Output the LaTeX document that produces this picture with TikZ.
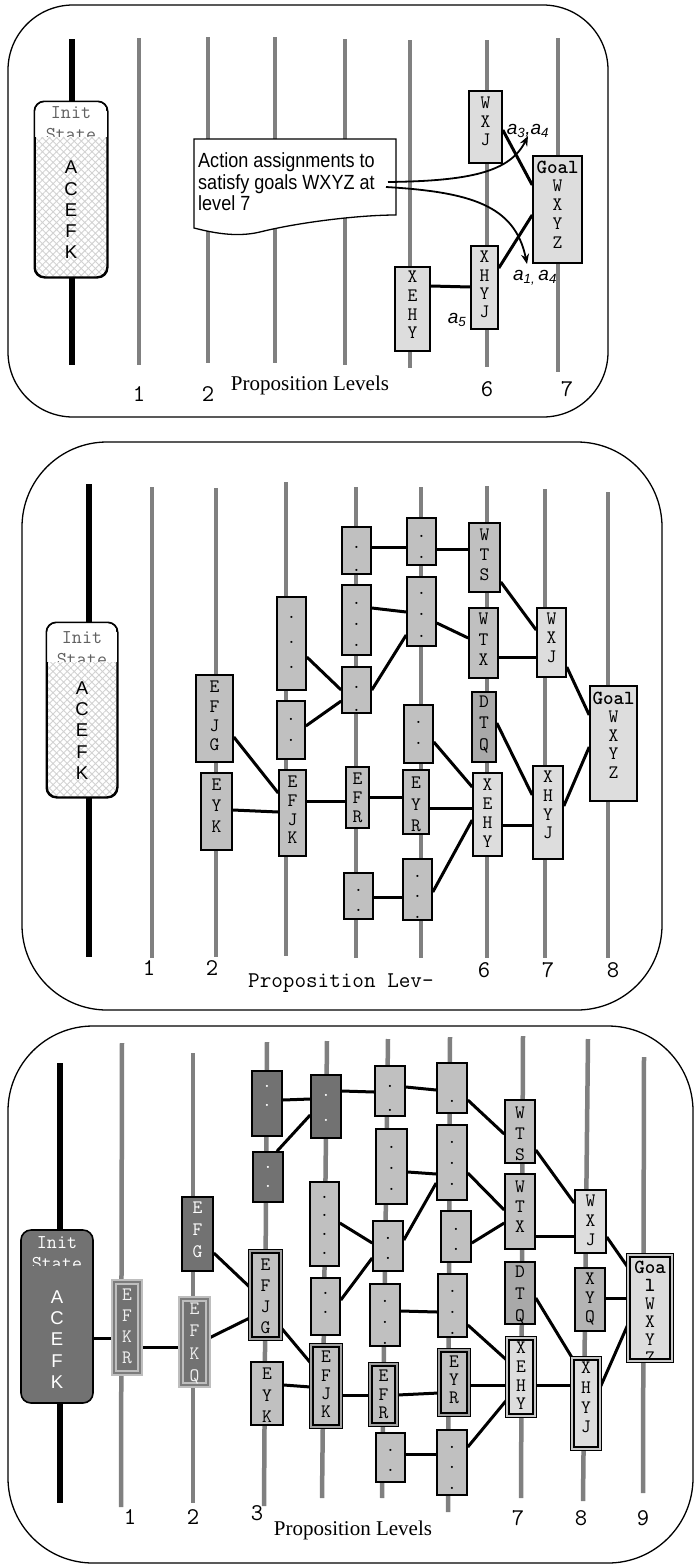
\documentclass[tikz,border=0pt]{standalone}
\usepackage{fontspec}
\usetikzlibrary{fit,arrows.meta,patterns.meta}
\newfontfamily\arialf{Liberation Sans}
\newfontfamily\callf[FakeStretch=0.88]{Liberation Sans}
\newfontfamily\timesf{Liberation Serif}
\definecolor{lvlgray}{HTML}{808080}
\definecolor{bxmed}{HTML}{C0C0C0}
\definecolor{bxlight}{HTML}{DDDDDD}
\definecolor{bxdark}{HTML}{727272}
\definecolor{bxdtq}{HTML}{A9A9A9}
\definecolor{bxxyq}{HTML}{B4B4B4}
\definecolor{efkrline}{HTML}{BEBEBE}
\definecolor{bandm}{HTML}{A0A0A0}
\definecolor{bandl}{HTML}{C8C8C8}
\definecolor{bandd}{HTML}{7C7C7C}
\pgfdeclarelayer{bg}
\pgfdeclarelayer{edges}
\pgfsetlayers{bg,edges,main}
\tikzset{
  lvl/.style={draw=lvlgray, line width=4.5pt},
  lvlblk/.style={draw=black, line width=6.5pt},
  panel/.style={draw=black, line width=1.3pt, rounded corners=#1},
  bxbase/.style={draw=black, line width=1.6pt, inner sep=0pt},
  bxm/.style={bxbase, fill=bxmed}, bxmt/.style={},
  bxl/.style={bxbase, fill=bxlight}, bxlt/.style={},
  bxd/.style={bxbase, fill=bxdark}, bxdt/.style={text=white},
  bxq/.style={bxbase, fill=bxdtq}, bxqt/.style={},
  bxy/.style={bxbase, fill=bxxyq}, bxyt/.style={},
  dblm/.style={draw=black, line width=1.3pt, double=bandm, double distance=2pt, fill=bxmed, inner sep=-2.3pt}, dblmt/.style={},
  dbll/.style={draw=black, line width=1.3pt, double=bandl, double distance=2pt, fill=bxlight, inner sep=-2.3pt}, dbllt/.style={},
  dbld/.style={draw=efkrline, line width=1.8pt, double=bandd, double distance=2pt, fill=bxdark, inner sep=-2.8pt}, dbldt/.style={text=gray!12},
  btx/.style={inner sep=0pt, align=center},
  edge/.style={draw=black, line width=3pt},
  initpat/.style={inner sep=0pt, rounded corners=10pt, preaction={fill=white},
    pattern={Hatch[angle=45,distance=5pt,line width=0.9pt]}, pattern color=gray!35,
    draw=black, line width=1.5pt},
  initbd/.style={draw=black, line width=1.5pt, rounded corners=10pt},
  inittx/.style={inner sep=0pt, font=\ttfamily\fontsize{19.5}{19.5}\selectfont, text=gray!75!black},
  acefk/.style={inner sep=0pt, align=center, font=\arialf\fontsize{18.5}{21.2}\selectfont},
  lvnum/.style={inner sep=0pt, font=\ttfamily\fontsize{24}{24}\selectfont},
  plv/.style={inner sep=0pt, font=\timesf\fontsize{21}{21}\selectfont},
  albl/.style={inner sep=0pt, font=\arialf\itshape\fontsize{19}{19}\selectfont},
  callout/.style={draw=black, line width=1.3pt, fill=white},
  calltx/.style={inner sep=0pt, align=left, font=\callf\fontsize{20.5}{21.5}\selectfont},
  arr/.style={draw=black, line width=1.8pt, -{Stealth[length=10pt,width=8pt]}}
}
\newcommand\pbx[9]{%
  \node[#6, fit={(#2,#3) (#4,#5)}] (#1) {};
  \node[btx, #6t, font=\ttfamily\fontsize{19}{#9}\selectfont] (#1t) at ({(#2+#4)/2},#8) {#7};%
}
\newcommand\edg[4]{\draw[edge] (#1.east |- 0,#2) -- (#3.west |- 0,#4);}
\begin{document}
\begin{tikzpicture}[x=1pt,y=-1pt]
\useasboundingbox (0,0) rectangle (695,1566);
\begin{pgfonlayer}{bg}
  \draw[panel=65pt] (8,5) rectangle (608,417);
  \draw[panel=85pt] (22,442) rectangle (662,1010);
  \draw[panel=85pt] (8,1026) rectangle (693,1563);
  \foreach \x/\a/\b in {139/38/365, 208/37/363, 275/37/363, 345/39/365, 410/40/368, 487/40/367, 558/38/372}
    \draw[lvl] (\x,\a) -- (\x,\b);
  \draw[lvlblk] (72,39) -- (72,365);
  \foreach \x/\a/\b in {152/487/958, 216/488/957, 286/482/956, 356/487/958, 421/487/958, 487/486/958, 545/489/958, 608/492/958}
    \draw[lvl] (\x,\a) -- (\x,\b);
  \draw[lvlblk] (89,484) -- (89,957);
  \foreach \xa/\a/\xb/\b in {122/1043/121/1507, 193/1053/193/1503, 267/1042/264/1506, 327/1041/322/1498, 388/1039/382/1498, 450/1037/448/1512, 523/1036/521/1498, 588/1039/583/1501, 644/1057/643/1493}
    \draw[lvl] (\xa,\a) -- (\xb,\b);
  \draw[lvlblk] (60,1063) -- (60,1503);
\end{pgfonlayer}

% ---------------- Panel 1 ----------------
\node[initpat, fit={(35,102) (107,277)}] (init1) {};
\begin{scope}
  \clip[rounded corners=10pt] (35,102) rectangle (107,277);
  \fill[white] (35,100) rectangle (107,136.5);
\end{scope}
\draw[initbd] (init1.north west) rectangle (init1.south east);
\node[inittx] (init1a) at (71,113) {Init};
\begin{scope}
  \clip (36,100) rectangle (106,136.5);
  \node[inittx] (init1b) at (71,134.5) {State};
\end{scope}
\node[acefk] (init1c) at (71,210) {A\\C\\E\\F\\K};

\draw[callout] (194,139) -- (396,139) -- (396,215)
  .. controls (360,215) and (300,222) .. (260,232)
  .. controls (235,238) and (210,232) .. (194,228) -- cycle;
\node[calltx, anchor=north west] (calltext) at (198,152.5) {Action assignments to\\satisfy goals WXYZ at\\level 7};

\pbx{p1wxj}{469}{91}{502}{163}{bxl}{W\\X\\J}{121.5}{18.5}
\pbx{p1goal}{533}{156}{582}{263}{bxl}{{\fontsize{20}{18.75}\selectfont\bfseries Goal}\\W\\X\\Y\\Z}{204.5}{18.75}
\pbx{p1xhyj}{471}{246}{498}{329}{bxl}{X\\H\\Y\\J}{284.5}{18.3}
\pbx{p1xehy}{395}{267}{430}{351}{bxl}{X\\E\\H\\Y}{305}{18.7}

\node[albl] (la34) at (528,131) {a\textsubscript{3},a\textsubscript{4}};
\node[albl] (la14) at (535,278) {a\textsubscript{1,}\,a\textsubscript{4}};
\node[albl] (la5) at (457,320) {a\textsubscript{5}};

\node[lvnum] (n11) at (139,394) {1};
\node[lvnum] (n12) at (208,394) {2};
\node[plv] (pl1) at (310,385) {Proposition Levels};
\node[lvnum] (n16) at (487,389) {6};
\node[lvnum] (n17) at (567,389) {7};

% ---------------- Panel 2 ----------------
\node[initpat, fit={(47,623) (117,797)}] (init2) {};
\begin{scope}
  \clip[rounded corners=10pt] (47,623) rectangle (117,797);
  \fill[white] (47,620) rectangle (117,661.5);
\end{scope}
\draw[initbd] (init2.north west) rectangle (init2.south east);
\node[inittx] (init2a) at (82,638) {Init};
\begin{scope}
  \clip (48,620) rectangle (116,661.5);
  \node[inittx] (init2b) at (82,659.5) {State};
\end{scope}
\node[acefk] (init2c) at (82,730.5) {A\\C\\E\\F\\K};

\pbx{qefjg}{196}{675}{233}{762}{bxm}{E\\F\\J\\G}{716}{19.3}
\pbx{qeyk}{201}{773}{232}{850}{bxm}{E\\Y\\K}{806}{21}
\pbx{qa}{277}{597}{306}{690}{bxm}{.\\.\\.}{642}{25}
\pbx{qb}{277}{701}{305}{759}{bxm}{.\\.}{729.5}{21}
\pbx{qefjk}{279}{770}{306}{856}{bxm}{E\\F\\J\\K}{810}{18.7}
\pbx{qc}{342}{527}{371}{574}{bxm}{.\\.}{558.5}{23}
\pbx{qd}{342}{585}{371}{655}{bxm}{.\\.\\.}{624}{21}
\pbx{qe}{342}{667}{371}{713}{bxm}{.\\.}{698.5}{23}
\pbx{qefr}{346}{767}{369}{828}{bxm}{E\\F\\R}{798}{19}
\pbx{qf}{344}{873}{373}{919}{bxm}{.\\.}{900}{20}
\pbx{qg}{407}{518}{436}{565}{bxm}{.\\.}{546.5}{21}
\pbx{qh}{407}{577}{436}{646}{bxm}{.\\.\\.}{614.5}{21.5}
\pbx{qi}{404}{705}{433}{763}{bxm}{.\\.}{732.5}{21}
\pbx{qeyr}{403}{770}{429}{834}{bxm}{E\\Y\\R}{804.5}{21.5}
\pbx{qj}{403}{859}{432}{920}{bxm}{.\\.\\.}{896.5}{20.5}
\pbx{qwts}{469}{523}{500}{592}{bxm}{W\\T\\S}{555}{20}
\pbx{qwtx}{469}{608}{498}{678}{bxm}{W\\T\\X}{639.5}{20.5}
\pbx{qdtq}{472}{692}{496}{762}{bxq}{D\\T\\Q}{724.5}{21.5}
\pbx{qxehy}{473}{773}{502}{856}{bxl}{X\\E\\H\\Y}{813.5}{19}
\pbx{qwxj}{537}{608}{566}{677}{bxl}{W\\X\\J}{638}{19}
\pbx{qxhyj}{533}{766}{563}{859}{bxl}{X\\H\\Y\\J}{805}{18.7}
\pbx{qgoal}{590}{686}{637}{801}{bxl}{{\fontsize{20}{18.5}\selectfont\bfseries Goal}\\W\\X\\Y\\Z}{735}{18.5}

\node[lvnum] (n21) at (149,968) {1};
\node[lvnum] (n22) at (212,968) {2};
\node[inner sep=0pt, anchor=west, font=\ttfamily\fontsize{22.5}{22.5}\selectfont] (pl2) at (248,983) {Proposition Lev-};
\node[lvnum] (n26) at (484,970) {6};
\node[lvnum] (n27) at (548,970) {7};
\node[lvnum] (n28) at (613,970) {8};

% ---------------- Panel 3 ----------------
\node[bxd, rounded corners=10pt, fit={(21,1230) (93,1403)}] (init3) {};
\node[inittx, text=white] (init3a) at (57,1243) {Init};
\begin{scope}
  \clip (22,1225) rectangle (92,1265.5);
  \node[inittx, text=white] (init3b) at (57,1264) {State};
\end{scope}
\node[acefk, text=white] (init3c) at (57,1339.5) {A\\C\\E\\F\\K};

\pbx{refkr}{111}{1279}{143}{1376}{dbld}{E\\F\\K\\R}{1326.5}{21}
\pbx{refkq}{178}{1296}{211}{1388}{dbld}{E\\F\\K\\Q}{1343.5}{22.3}
\pbx{refg}{182}{1197}{213}{1271}{bxd}{E\\F\\G}{1230}{22}
\pbx{refjg}{248}{1249}{283}{1341}{dblm}{E\\F\\J\\G}{1296.5}{21}
\pbx{reyk}{251}{1362}{283}{1425}{bxm}{E\\Y\\K}{1395.5}{21.5}
\pbx{rda}{252}{1071}{282}{1136}{bxd}{.\\.}{1095.5}{19}
\pbx{rdb}{253}{1152}{283}{1202}{bxd}{.\\.}{1176.5}{19}
\pbx{rdc}{311}{1075}{341}{1138}{bxd}{.\\.}{1107.5}{25}
\pbx{ra}{310}{1182}{339}{1266}{bxm}{.\\.\\.\\.}{1225}{18.7}
\pbx{rb}{311}{1278}{340}{1335}{bxm}{.\\.}{1302.5}{19}
\pbx{refjk}{309}{1343}{343}{1429}{dblm}{E\\F\\J\\K}{1384.5}{18.3}
\pbx{rc}{375}{1066}{405}{1116}{bxm}{.\\.}{1098}{24}
\pbx{rd}{376}{1129}{407}{1204}{bxm}{.\\.\\.}{1168}{21}
\pbx{re}{373}{1221}{403}{1271}{bxm}{.\\.}{1248}{20}
\pbx{rf}{370}{1284}{400}{1346}{bxm}{.\\.\\.}{1322}{21}
\pbx{refr}{368}{1362}{399}{1427}{dblm}{E\\F\\R}{1394.5}{18.5}
\pbx{rg}{376}{1433}{405}{1482}{bxm}{.\\.}{1460}{20}
\pbx{rh}{437}{1063}{467}{1113}{bxm}{.}{1101}{20}
\pbx{ri}{437}{1125}{467}{1200}{bxm}{.\\.\\.}{1163}{21}
\pbx{rj}{441}{1211}{471}{1262}{bxm}{.\\.}{1239}{20}
\pbx{rk}{438}{1274}{467}{1337}{bxm}{.\\.\\.}{1312}{21}
\pbx{reyr}{437}{1348}{471}{1417}{dblm}{E\\Y\\R}{1380}{18}
\pbx{rl}{437}{1430}{467}{1495}{bxm}{.\\.\\.}{1467.5}{20.5}
\pbx{rwts}{505}{1100}{535}{1163}{bxm}{W\\T\\S}{1134}{21}
\pbx{rwtx}{505}{1174}{535}{1249}{bxm}{W\\T\\X}{1207}{20}
\pbx{rdtq}{505}{1262}{535}{1324}{bxq}{D\\T\\Q}{1295}{22}
\pbx{rxehy}{505}{1336}{537}{1418}{dbll}{X\\E\\H\\Y}{1376}{18.7}
\pbx{rwxj}{575}{1190}{606}{1253}{bxl}{W\\X\\J}{1220.5}{19.5}
\pbx{rxyq}{575}{1268}{605}{1331}{bxy}{X\\Y\\Q}{1299}{19}
\pbx{rxhyj}{570}{1356}{602}{1451}{dbll}{X\\H\\Y\\J}{1397.5}{19.7}
\node[dbll, fit={(626,1253) (674,1363)}] (rgoal) {};
\begin{scope}
  \clip (628,1255) rectangle (672,1358.3);
  \node[btx, font=\ttfamily\fontsize{19}{18}\selectfont] (rgoalt) at (650,1312)
    {{\fontsize{20}{18}\selectfont\bfseries Goa}\\{\fontsize{20}{18}\selectfont\bfseries l}\\W\\X\\Y\\Z};
\end{scope}

\node[lvnum] (n31) at (130,1517) {1};
\node[lvnum] (n32) at (193,1517) {2};
\node[lvnum] (n33) at (257,1513) {3};
\node[plv] (pl3) at (353,1530) {Proposition Levels};
\node[lvnum] (n37) at (518,1518) {7};
\node[lvnum] (n38) at (581,1518) {8};
\node[lvnum] (n39) at (643,1518) {9};

% ---------------- Edges ----------------
\begin{pgfonlayer}{edges}
  \edg{p1wxj}{130}{p1goal}{185}
  \edg{p1xhyj}{268}{p1goal}{215}
  \edg{p1xehy}{286}{p1xhyj}{287}

  \edg{qefjg}{737}{qefjk}{793}
  \edg{qeyk}{810}{qefjk}{812}
  \edg{qa}{657}{qe}{690}
  \edg{qb}{726}{qe}{701}
  \edg{qefjk}{801}{qefr}{801}
  \edg{qc}{547}{qg}{547}
  \edg{qd}{608}{qh}{612}
  \edg{qe}{690}{qh}{635}
  \edg{qefr}{797}{qeyr}{797}
  \edg{qg}{549}{qwts}{549}
  \edg{qh}{623}{qwtx}{638}
  \edg{qi}{742}{qxehy}{787}
  \edg{qeyr}{808}{qxehy}{808}
  \edg{qj}{892}{qxehy}{820}
  \edg{qf}{897}{qj}{897}
  \edg{qwts}{582}{qwxj}{630}
  \edg{qwtx}{657}{qwxj}{657}
  \edg{qwxj}{667}{qgoal}{715}
  \edg{qdtq}{723}{qxhyj}{795}
  \edg{qxehy}{825}{qxhyj}{825}
  \edg{qxhyj}{806}{qgoal}{747}

  \edg{init3}{1338}{refkr}{1338}
  \edg{refkr}{1347}{refkq}{1347}
  \edg{refkq}{1338}{refjg}{1318}
  \edg{refg}{1253}{refjg}{1287}
  \edg{refjg}{1328}{refjk}{1363}
  \edg{reyk}{1385}{refjk}{1387}
  \edg{refjk}{1395}{refr}{1395}
  \edg{rda}{1100}{rdc}{1099}
  \draw[edge] (277,0 |- rdb.north) -- (rdc.west |- 0,1115);
  \edg{rdc}{1091}{rc}{1092}
  \edg{ra}{1223}{re}{1243}
  \edg{rb}{1300}{re}{1258}
  \edg{rc}{1087}{rh}{1090}
  \edg{rd}{1172}{ri}{1174}
  \edg{re}{1240}{ri}{1183}
  \edg{rf}{1311}{rk}{1312}
  \edg{refr}{1395}{reyr}{1393}
  \edg{rg}{1454}{rl}{1454}
  \edg{rh}{1100}{rwts}{1134}
  \edg{ri}{1173}{rwtx}{1210}
  \edg{rj}{1243}{rwtx}{1223}
  \edg{rk}{1325}{rxehy}{1360}
  \edg{reyr}{1385}{rxehy}{1385}
  \edg{rl}{1447}{rxehy}{1400}
  \edg{rwts}{1150}{rwxj}{1203}
  \edg{rwtx}{1236}{rwxj}{1236}
  \edg{rwxj}{1237}{rgoal}{1267}
  \edg{rdtq}{1298}{rxhyj}{1357}
  \edg{rxehy}{1385}{rxhyj}{1385}
  \edg{rxyq}{1298}{rgoal}{1298}
  \edg{rxhyj}{1387}{rgoal}{1325}
\end{pgfonlayer}

% ---------------- Callout arrows ----------------
\coordinate (cs1) at (388,182);
\coordinate (cs2) at (386,187);
\coordinate (ct1) at (528,136);
\coordinate (ct2) at (527,264);
\draw[arr] (cs1) .. controls (470,181) and (510,172) .. (ct1);
\draw[arr] (cs2) .. controls (470,192) and (515,205) .. (ct2);
\end{tikzpicture}
\end{document}
